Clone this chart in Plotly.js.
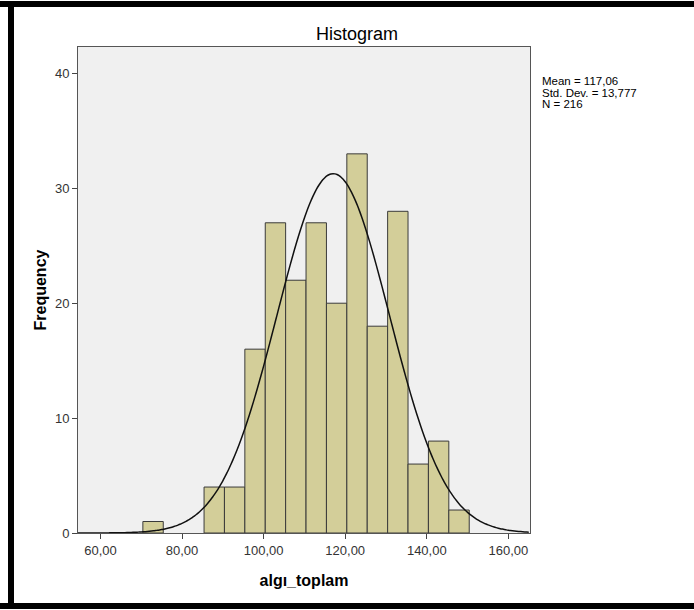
<!DOCTYPE html>
<html>
<head>
<meta charset="utf-8">
<script src="https://cdn.plot.ly/plotly-3.0.1.min.js"></script>
<style>html,body{margin:0;padding:0;background:#fff;}#chart{width:694px;height:610px;}</style>
</head>
<body>
<div id="chart"></div>
<script>
// Histogram bins (lower edges) and counts, bin width 5
const binStarts = [70.4, 85.4, 90.4, 95.4, 100.4, 105.4, 110.4, 115.4, 120.4, 125.4, 130.4, 135.4, 140.4, 145.4];
const counts    = [1, 4, 4, 16, 27, 22, 27, 20, 33, 18, 28, 6, 8, 2];
const binWidth = 5;
// Summary statistics shown on chart
const meanVal = 117.06;
const sdVal = 13.777;
const nVal = 216;
const statLines = ["Mean = 117,06", "Std. Dev. = 13,777", "N = 216"];
// Axis ticks
const xTickVals = [60, 80, 100, 120, 140, 160];
const xTickText = ["60,00", "80,00", "100,00", "120,00", "140,00", "160,00"];
const yTickVals = [0, 10, 20, 30, 40];

const centers = binStarts.map(s => s + binWidth / 2);

// Normal curve defined by the displayed mean / sd / N
const curveX = [];
const curveY = [];
for (let x = 54.5; x <= 165.3; x += 0.5) {
  curveX.push(x);
  const z = (x - meanVal) / sdVal;
  curveY.push(nVal * binWidth / (sdVal * Math.sqrt(2 * Math.PI)) * Math.exp(-0.5 * z * z));
}

const font = "Liberation Sans, Arial, sans-serif";
const L = 78, R = 530, T = 47, B = 533;
const px = v => (v - L) / (R - L);
const py = v => (B - v) / (B - T);

const traces = [
  {
    type: "bar", x: centers, y: counts, width: binWidth,
    marker: {color: "#d3ce99", line: {color: "#3a3a3a", width: 1}},
    hoverinfo: "x+y"
  },
  {
    type: "scatter", mode: "lines", x: curveX, y: curveY,
    line: {color: "#111", width: 1.5, shape: "spline"},
    hoverinfo: "skip"
  }
];

const annotations = statLines.map((t, i) => ({
  xref: "paper", yref: "paper", x: px(540), y: py(81 + 11.5 * i),
  xanchor: "left", yanchor: "middle", align: "left", showarrow: false,
  text: t, font: {family: font, size: 11.5, color: "#000"}
}));

const layout = {
  width: 694, height: 610,
  margin: {l: L, r: 694 - R, t: T, b: 610 - B},
  paper_bgcolor: "#ffffff",
  plot_bgcolor: "#f0f0f0",
  showlegend: false,
  bargap: 0,
  font: {family: font, size: 13, color: "#333"},
  title: {text: "Histogram", x: 357 / 694, xref: "container", xanchor: "center",
          y: 1 - 34 / 610, yref: "container", yanchor: "middle",
          font: {family: font, size: 18, color: "#000"}},
  xaxis: {
    range: [54.5, 165.3], tickvals: xTickVals, ticktext: xTickText,
    ticks: "outside", ticklen: 5, tickcolor: "#444", tickwidth: 1,
    showline: true, linecolor: "#555", linewidth: 1, mirror: true,
    showgrid: false, zeroline: false,
    tickfont: {family: font, size: 13, color: "#333"},
    title: {text: "<b>algı_toplam</b>", standoff: 18, font: {family: font, size: 16, color: "#000"}}
  },
  yaxis: {
    range: [0, 42.3], tickvals: yTickVals,
    ticks: "outside", ticklen: 5, tickcolor: "#444", tickwidth: 1,
    showline: true, linecolor: "#555", linewidth: 1, mirror: true,
    showgrid: false, zeroline: false,
    tickfont: {family: font, size: 13, color: "#333"},
    title: {text: "<b>Frequency</b>", standoff: 4, font: {family: font, size: 16, color: "#000"}}
  },
  annotations: annotations,
  shapes: [
    {type: "rect", xref: "paper", yref: "paper", x0: px(0), x1: px(694), y0: py(7), y1: py(1), fillcolor: "#000", line: {width: 0}, layer: "above"},
    {type: "rect", xref: "paper", yref: "paper", x0: px(0), x1: px(694), y0: py(609), y1: py(603), fillcolor: "#000", line: {width: 0}, layer: "above"},
    {type: "rect", xref: "paper", yref: "paper", x0: px(8), x1: px(14), y0: py(609), y1: py(1), fillcolor: "#000", line: {width: 0}, layer: "above"}
  ]
};

Plotly.newPlot("chart", traces, layout, {displayModeBar: false, staticPlot: true});
</script>
</body>
</html>
